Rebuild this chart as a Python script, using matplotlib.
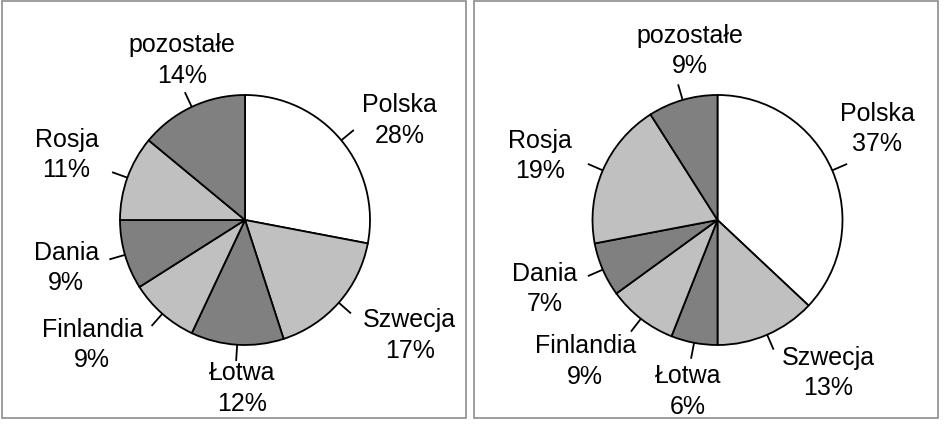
import matplotlib
matplotlib.use('Agg')
import matplotlib.pyplot as plt
from matplotlib.patches import Rectangle
import numpy as np

countries = ['Polska', 'Szwecja', 'Łotwa', 'Finlandia', 'Dania', 'Rosja', 'pozostałe']
share_left = [28, 17, 12, 9, 9, 11, 14]
share_right = [37, 13, 6, 9, 7, 19, 9]

colors = ['white', '#c0c0c0', '#808080', '#c0c0c0', '#808080', '#c0c0c0', '#808080']

# label placement: radius factor and angle shift from wedge middle
lab_r_left = [1.47, 1.61, 1.35, 1.58, 1.48, 1.52, 1.37]
lab_da_left = [-6.8, 6.4, 2.6, -9.3, -1.2, -0.2, -3.6]
lab_r_right = [1.47, 1.51, 1.39, 1.55, 1.49, 1.51, 1.37]
lab_da_right = [6.3, 12.4, 1.0, -5.2, -1.7, 3.6, -7.0]

W, H = 944, 443
plt.rcParams['font.family'] = ['Liberation Sans', 'DejaVu Sans']

fig = plt.figure(figsize=(W / 100, H / 100), dpi=100)
ax = fig.add_axes([0, 0, 1, 1])


def draw_pie(values, cx, cy, r, lab_r, lab_da):
    wedges, _ = ax.pie(values, colors=colors, startangle=90, counterclock=False,
                       center=(cx, H - cy), radius=r, frame=True,
                       wedgeprops=dict(edgecolor='black', linewidth=1.3))
    for i, w in enumerate(wedges):
        mid = np.deg2rad((w.theta1 + w.theta2) / 2)
        x0, y0 = w.center
        ax.plot([x0 + r * np.cos(mid), x0 + 1.13 * r * np.cos(mid)],
                [y0 + r * np.sin(mid), y0 + 1.13 * r * np.sin(mid)],
                color='black', lw=1.3, solid_capstyle='butt')
        a = mid + np.deg2rad(lab_da[i])
        ax.text(x0 + lab_r[i] * r * np.cos(a), y0 + lab_r[i] * r * np.sin(a),
                f'{countries[i]}\n{values[i]}%', ha='center', va='center',
                fontsize=18, linespacing=1.35)


draw_pie(share_left, 245, 220, 125, lab_r_left, lab_da_left)
draw_pie(share_right, 717.5, 220, 125, lab_r_right, lab_da_right)

# panel frames
ax.add_patch(Rectangle((2, H - 418), 464, 417, fill=False, edgecolor='#8c8c8c', lw=1.2))
ax.add_patch(Rectangle((474, H - 418), 464, 417, fill=False, edgecolor='#8c8c8c', lw=1.2))

ax.set_xlim(0, W)
ax.set_ylim(0, H)
ax.axis('off')

fig.savefig('out.png', dpi=100, facecolor='white')
